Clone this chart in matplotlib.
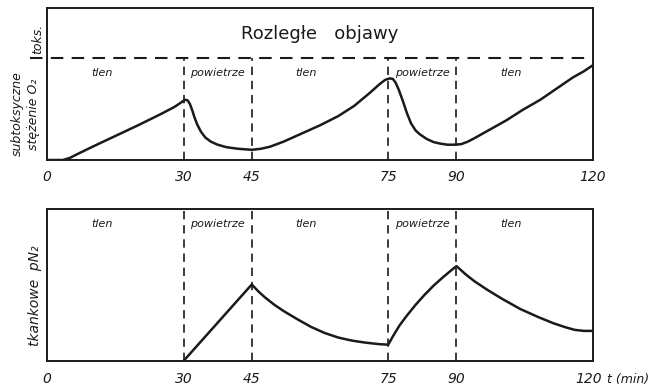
import numpy as np
import matplotlib
matplotlib.use("Agg")
import matplotlib.pyplot as plt
from matplotlib.transforms import ScaledTranslation

# time axis (min)
tick_times = [0, 30, 45, 75, 90, 120]
switch_times = [30, 45, 75, 90]
phase_bounds = [0, 30, 45, 75, 90, 120]
phase_names = ["tlen", "powietrze", "tlen", "powietrze", "tlen"]

# top panel: O2 concentration (arbitrary units, toxic threshold = 100)
toks_level = 100
o2_t = [0, 3.5, 5, 7, 10, 15, 20, 25, 28, 29.5, 30.3, 30.9, 31.4, 31.9,
        32.4, 33, 33.8, 34.8, 36, 37.5, 39.5, 42, 45,
        47, 49, 52, 56, 60, 64, 67.5, 71, 73, 74.3, 75.3, 76, 76.6,
        77.3, 78.2, 79.1, 80, 81, 82, 83.5, 85, 86.5, 88, 89.5, 91,
        92.5, 94, 97, 101, 104.5, 108.4, 112, 115.6, 118, 120]
o2_level = [0, 0, 2, 6.5, 13, 23.5, 34, 45, 52, 56.5, 59, 58.5, 55, 49,
            42, 35, 28, 22, 18, 15, 12.5, 11, 10,
            11, 13, 18, 26, 34, 43, 53, 66, 74, 78.5, 80, 79.5, 76,
            69, 58, 46, 36, 29, 25, 20.5, 17.5, 16, 15, 15, 15.5,
            18, 21.5, 29, 39, 49, 59, 70, 81, 87, 93]

# bottom panel: tissue pN2 (arbitrary units)
n2_t = [30, 45, 46.5, 48, 50, 52, 55, 58, 61, 64, 67, 70, 73, 75,
        76, 77.5, 79, 81, 83, 85, 87, 89, 90,
        92, 94, 96.7, 100, 104, 108, 111.3, 114, 116, 118, 120]
n2_level = [0, 75, 68, 62, 55, 49, 41, 33.5, 27.5, 23, 20, 18, 16.5, 16,
            24, 35, 44, 55, 65, 74, 82, 89.5, 93,
            85, 78, 70, 61, 51, 43, 37, 33, 30.5, 29.5, 29.5]

ink = "#1a1a1a"
ymax = 149

fig = plt.figure(figsize=(6.51, 3.89), dpi=100)
ax1 = fig.add_axes([0.0722, 0.5887, 0.8387, 0.3907])
ax2 = fig.add_axes([0.0722, 0.0720, 0.8387, 0.3907])

dash_v = (0, (5, 3.5))
dash_h = (0, (6, 4))

for ax in (ax1, ax2):
    ax.set_xlim(0, 120)
    ax.set_ylim(0, ymax)
    ax.set_yticks([])
    ax.set_xticks(tick_times)
    ax.tick_params(axis="x", length=0)
    for s in ax.spines.values():
        s.set_linewidth(1.4)
        s.set_color(ink)

lab_font = dict(fontsize=9, style="italic", color=ink)
tick_font = dict(fontsize=10, style="italic", color=ink)

# top panel
ax1.plot(o2_t, o2_level, color=ink, lw=1.8, solid_capstyle="round",
         solid_joinstyle="round")
ax1.axhline(toks_level, xmin=-0.032, xmax=1, color=ink, lw=1.5,
            linestyle=dash_h, clip_on=False)
ax1.vlines(switch_times, 0, toks_level, colors=ink, lw=1.2, linestyles=dash_v)
ax1.set_xticklabels([str(t) for t in tick_times], **tick_font)
ax1.tick_params(axis="x", pad=7)
ax1.text(60, 124, "Rozległe   objawy", ha="center", va="center",
         fontsize=13, color=ink)

# bottom panel
ax2.plot(n2_t, n2_level, color=ink, lw=1.8, solid_capstyle="round",
         solid_joinstyle="round")
ax2.vlines(switch_times, 0, ymax, colors=ink, lw=1.2, linestyles=dash_v)
labels = ax2.set_xticklabels([str(t) for t in tick_times], **tick_font)
ax2.tick_params(axis="x", pad=8)
# nudge the last label left so the unit fits beside it
labels[-1].set_transform(labels[-1].get_transform()
                         + ScaledTranslation(-4 / 100, 0, fig.dpi_scale_trans))
ax2.annotate("t (min)", xy=(120, 0), xytext=(10, -8.5), textcoords="offset points",
             ha="left", va="top", annotation_clip=False, **lab_font)

# phase labels
for i, name in enumerate(phase_names):
    mid = (phase_bounds[i] + phase_bounds[i + 1]) / 2
    if name == "tlen":
        mid -= 3
    ax1.text(mid, 85, name, ha="center", va="center", fontsize=8,
             style="italic", color=ink)
    ax2.text(mid, 134, name, ha="center", va="center", fontsize=8,
             style="italic", color=ink)

# y labels
fig.text(0.058, 0.90, "toks.", rotation=90, ha="center", va="center", **lab_font)
fig.text(0.026, 0.707, "subtoksyczne", rotation=90, ha="center", va="center", **lab_font)
fig.text(0.051, 0.707, "stężenie O₂", rotation=90, ha="center", va="center", **lab_font)
fig.text(0.054, 0.24, "tkankowe  pN₂", rotation=90, ha="center", va="center",
         fontsize=10, style="italic", color=ink)

fig.savefig("out.png", dpi=100, facecolor="white")
